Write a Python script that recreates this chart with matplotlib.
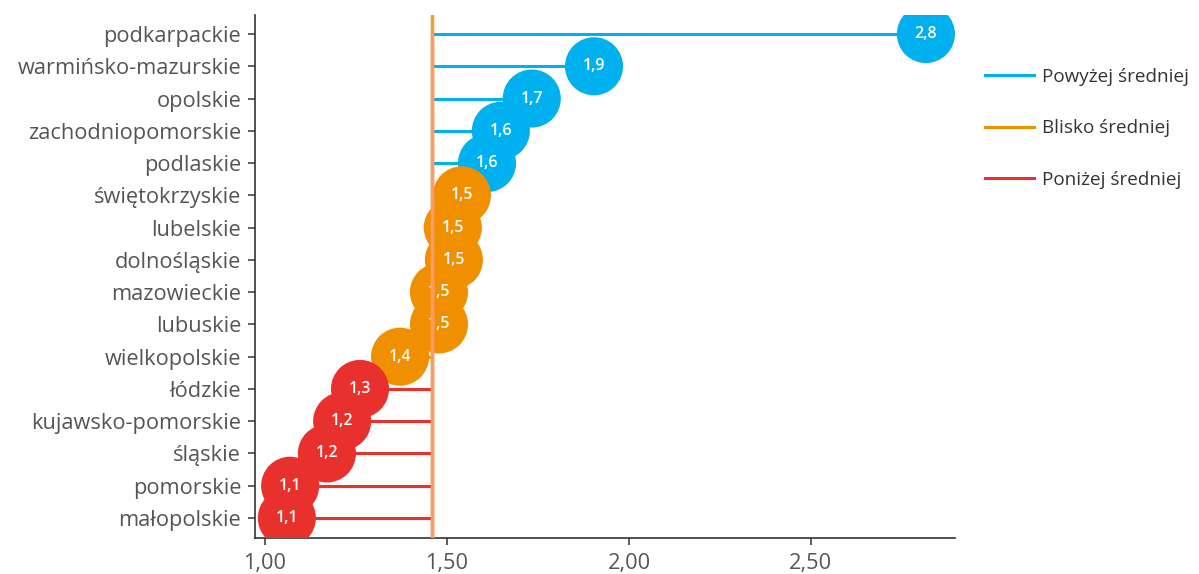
import matplotlib
matplotlib.use("Agg")
import matplotlib.pyplot as plt
from matplotlib.lines import Line2D

plt.rcParams['font.family'] = ['Open Sans', 'DejaVu Sans']

regions = ["podkarpackie", "warmińsko-mazurskie", "opolskie", "zachodniopomorskie",
           "podlaskie", "świętokrzyskie", "lubelskie", "dolnośląskie", "mazowieckie",
           "lubuskie", "wielkopolskie", "łódzkie", "kujawsko-pomorskie", "śląskie",
           "pomorskie", "małopolskie"]
values = [2.816, 1.904, 1.733, 1.648, 1.610, 1.541, 1.516, 1.519, 1.478, 1.478,
          1.371, 1.261, 1.212, 1.170, 1.069, 1.060]
groups = ["above"] * 5 + ["near"] * 6 + ["below"] * 5
mean_value = 1.459
xticks = [1.0, 1.5, 2.0, 2.5]
xtick_labels = ["1,00", "1,50", "2,00", "2,50"]
legend_labels = {"above": "Powyżej średniej", "near": "Blisko średniej", "below": "Poniżej średniej"}
colors = {"above": "#01B0EE", "near": "#F09000", "below": "#E8302D"}

fig = plt.figure(figsize=(11.99, 5.74), dpi=100)
ax = fig.add_axes([0.2127, 0.0627, 0.7965 - 0.2127, 0.9739 - 0.0627])

ypos = list(range(len(regions)))
for y, v, g in zip(ypos, values, groups):
    ax.plot([mean_value, v], [y, y], color=colors[g], lw=2.2, zorder=2, solid_capstyle='butt')
ax.scatter(values, ypos, s=1750, c=[colors[g] for g in groups], edgecolors='none', zorder=3)
for y, v in zip(ypos, values):
    ax.text(v, y, f"{v:.1f}".replace('.', ','), color='white', ha='center', va='center',
            fontsize=11.5, fontweight='semibold', zorder=4, clip_on=True)

ax.axvline(mean_value, color='#F0A030', lw=2.5, zorder=5)
ax.plot([mean_value, mean_value], [0, 16], color='#FF9A70', lw=2.5, zorder=6, alpha=0.9)

ax.set_xlim(0.9725, 2.896)
ax.set_ylim(15.62, -0.59)
ax.set_yticks(ypos)
ax.set_yticklabels(regions)
ax.set_xticks(xticks)
ax.set_xticklabels(xtick_labels)
for s in ['top', 'right']:
    ax.spines[s].set_visible(False)
for s in ['left', 'bottom']:
    ax.spines[s].set_color('#333333')
    ax.spines[s].set_linewidth(1.2)
ax.tick_params(axis='both', colors='#333333', labelcolor='#555555', labelsize=15.7,
               length=5, width=1.1)
ax.tick_params(axis='y', pad=5)
ax.tick_params(axis='x', pad=6)

handles = [Line2D([0], [0], color=colors[k], lw=2.2) for k in ["above", "near", "below"]]
fig.legend(handles, [legend_labels[k] for k in ["above", "near", "below"]],
           loc='upper left', bbox_to_anchor=(0.8215, 0.882), frameon=False,
           borderpad=0, borderaxespad=0,
           fontsize=13.6, labelcolor='#333333', handlelength=2.6, labelspacing=1.78,
           handletextpad=0.4)

fig.savefig("out.png", dpi=100)
